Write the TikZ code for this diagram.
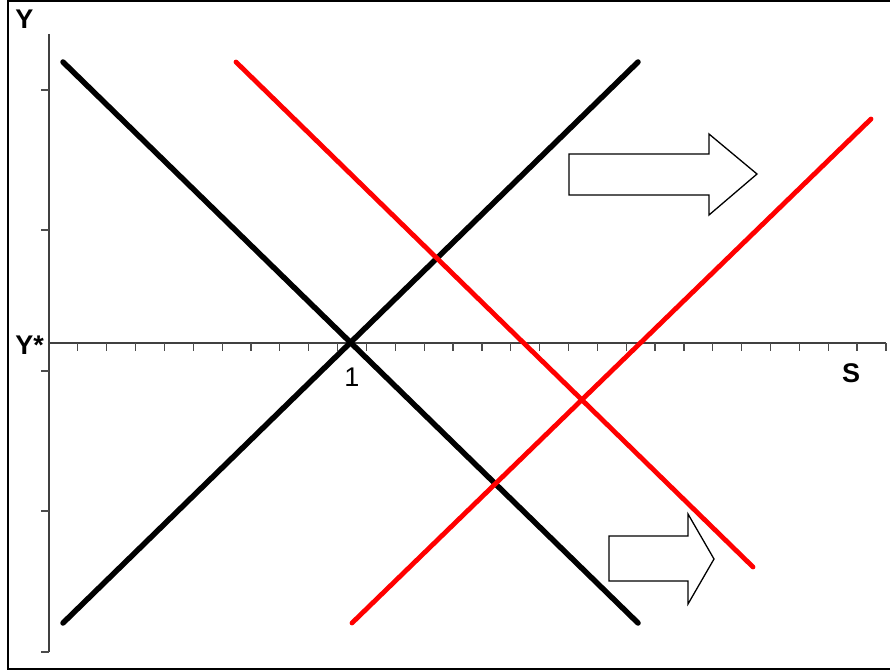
\documentclass[tikz,border=0pt]{standalone}
\usepackage{fontspec}
\setmainfont{Liberation Sans}
\begin{document}
\begin{tikzpicture}[x=1pt,y=-1pt,
  axisline/.style={draw=black!75, line width=1.4pt},
  tickmark/.style={draw=black!70, line width=1.2pt},
  blackcurve/.style={draw=black, line width=5.5pt, line cap=round},
  redcurve/.style={draw=red, line width=4.8pt, line cap=round},
  blockarrow/.style={draw=black, fill=white, line width=1.3pt, line join=miter},
  boldlabel/.style={font=\bfseries\fontsize{27}{27}\selectfont, inner sep=0pt},
  numlabel/.style={font=\fontsize{27}{27}\selectfont, inner sep=0pt}]
\useasboundingbox (0,0) rectangle (890,671);
% frame
\draw[black, line width=1.6pt] (892,1) -- (8,1) -- (8,669) -- (892,669);
% axes
\coordinate (ytop) at (49,34);
\coordinate (ybot) at (49,652);
\coordinate (xl) at (49,343);
\coordinate (xr) at (886,343);
\draw[axisline] (ytop) -- (ybot);
\draw[axisline] (xl) -- (xr);
\foreach \yy in {90,230,371,511,652} \draw[tickmark] (41,\yy) -- (49,\yy);
\foreach \k in {1,...,29} \draw[tickmark] ({49+\k*28.86},343) -- ({49+\k*28.86},351);
% labels
\node[boldlabel] (ylab) at (24.5,19.5) {Y};
\node[boldlabel, anchor=east] (ystar) at (44,345) {Y*};
\node[numlabel] (one) at (352,377) {1};
\node[boldlabel] (slab) at (851,373) {S};
% black curves
\coordinate (bd1) at (63,62);
\coordinate (bd2) at (638,623);
\coordinate (ba1) at (63,623);
\coordinate (ba2) at (638,62);
\draw[blackcurve] (bd1) -- (bd2);
\draw[blackcurve] (ba1) -- (ba2);
% red curves
\coordinate (rd1) at (236,62);
\coordinate (rd2) at (753,567);
\coordinate (ra1) at (352,623);
\coordinate (ra2) at (871,119);
\draw[redcurve] (rd1) -- (rd2);
\draw[redcurve] (ra1) -- (ra2);
% block arrows
\draw[blockarrow] (569,154) -- (709,154) -- (709,134) -- (757,174) -- (709,215) -- (709,195) -- (569,195) -- cycle;
\draw[blockarrow] (609,536) -- (688,536) -- (688,514) -- (714,559) -- (688,604) -- (688,581) -- (609,581) -- cycle;
\end{tikzpicture}
\end{document}
